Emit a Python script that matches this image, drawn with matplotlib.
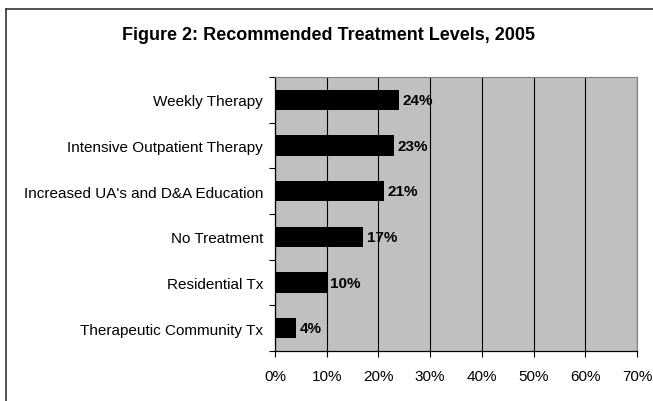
import matplotlib
matplotlib.use("Agg")
import matplotlib.pyplot as plt
from matplotlib.lines import Line2D

categories = ["Weekly Therapy", "Intensive Outpatient Therapy", "Increased UA's and D&A Education",
              "No Treatment", "Residential Tx", "Therapeutic Community Tx"]
values = [24, 23, 21, 17, 10, 4]
labels = ["24%", "23%", "21%", "17%", "10%", "4%"]
xticks = [0, 10, 20, 30, 40, 50, 60, 70]
xticklabels = ["0%", "10%", "20%", "30%", "40%", "50%", "60%", "70%"]

plt.rcParams['font.family'] = ['Liberation Sans', 'DejaVu Sans']

W, H = 653, 402
fig = plt.figure(figsize=(W/100, H/100), dpi=100)
ax = fig.add_axes([275/W, 1-352/H, (637-275)/W, (352-78)/H])
ax.set_facecolor('#C0C0C0')

n = len(categories)
ypos = list(range(n))
ax.barh(ypos, values, height=0.44, color='black', zorder=3)
for y, v, lab in zip(ypos, values, labels):
    ax.text(v + 0.7, y, lab, va='center', ha='left', fontsize=11, fontweight='bold', zorder=4)

ax.set_xlim(0, 70)
ax.set_ylim(n - 0.5, -0.5)
ax.set_xticks(xticks)
ax.set_xticklabels(xticklabels, fontsize=11)
ax.set_yticks(ypos)
ax.set_yticklabels(categories, fontsize=11)
ax.tick_params(axis='y', length=0, pad=8.5)
ax.set_yticks([i - 0.5 for i in range(n + 1)], minor=True)
ax.tick_params(axis='y', which='minor', length=4, width=0.8, direction='out')
ax.tick_params(axis='x', length=4, width=0.8, direction='out', pad=9)
ax.xaxis.grid(True, color='black', linewidth=0.8, zorder=1)
ax.set_axisbelow(True)
for s in ['top', 'right']:
    ax.spines[s].set_color('#808080')
    ax.spines[s].set_linewidth(0.8)
for s in ['left', 'bottom']:
    ax.spines[s].set_color('black')
    ax.spines[s].set_linewidth(0.9)

fig.text(329/W, 1 - 36/H, "Figure 2: Recommended Treatment Levels, 2005", ha='center', va='center',
         fontsize=13, fontweight='bold')

bx, by = 6/W, 1 - 10/H
fig.add_artist(Line2D([bx, bx], [0, by], transform=fig.transFigure, color='#333333', linewidth=1.2))
fig.add_artist(Line2D([bx, 1], [by, by], transform=fig.transFigure, color='#333333', linewidth=1.2))

fig.savefig("out.png", dpi=100)
